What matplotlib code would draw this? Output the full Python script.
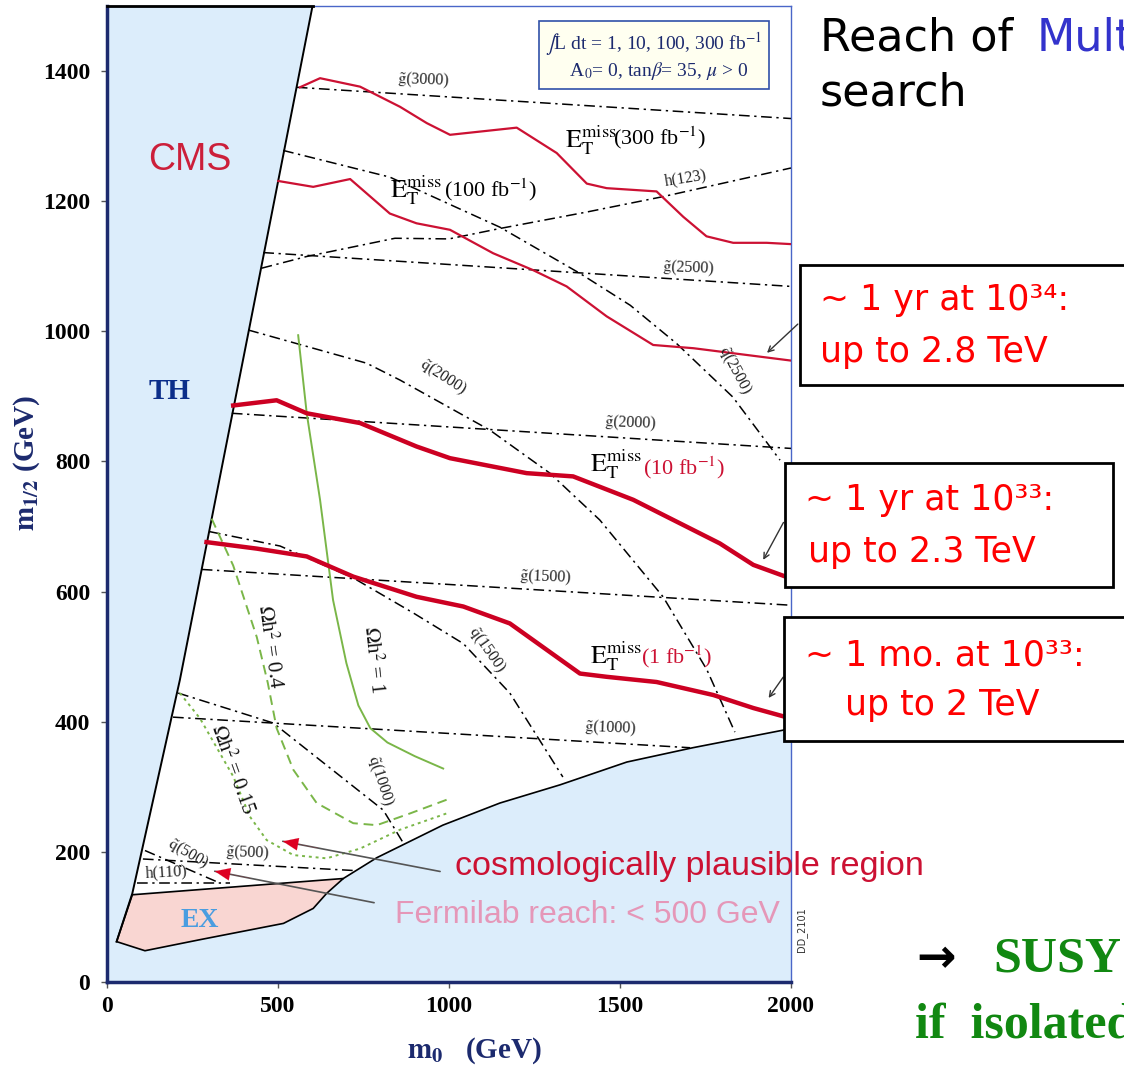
import matplotlib.pyplot as plt
from matplotlib.patches import Rectangle

plt.rcParams['mathtext.fontset'] = 'stix'
SERIF = 'Liberation Serif'
SANS = 'DejaVu Sans'

# ---- region boundaries (m0, m1/2 in GeV) ----
th_m0 = [601, 415, 213, 74, 28]
th_m12 = [1500, 1002, 464, 136, 62]
ewsb_m0 = [691, 789, 982, 1149, 1325, 1520, 1713, 1977, 2000]
ewsb_m12 = [159, 191, 241, 275, 303, 338, 360, 387, 392]
ex_m0 = [74, 691, 642, 603, 516, 272, 111, 28]
ex_m12 = [134, 159, 136, 113, 90, 65, 48, 62]

# ---- E_T^miss reach curves ----
r300_m0 = [564, 623, 740, 857, 935, 1003, 1198, 1315, 1403, 1461, 1607, 1685, 1753, 1831, 1929, 2000]
r300_m12 = [1375, 1389, 1376, 1345, 1320, 1302, 1313, 1274, 1227, 1220, 1215, 1176, 1146, 1136, 1136, 1134]
r100_m0 = [501, 603, 711, 827, 905, 1003, 1129, 1246, 1344, 1461, 1597, 1715, 2000]
r100_m12 = [1231, 1222, 1234, 1181, 1166, 1156, 1120, 1094, 1069, 1023, 979, 974, 955]
r10_m0 = [369, 496, 584, 740, 905, 1003, 1227, 1363, 1539, 1792, 1890, 2000]
r10_m12 = [886, 894, 874, 859, 823, 805, 782, 777, 741, 674, 641, 620]
r1_m0 = [291, 438, 584, 720, 905, 1042, 1178, 1383, 1461, 1607, 1773, 1890, 2000]
r1_m12 = [676, 666, 654, 623, 592, 577, 551, 474, 469, 461, 441, 421, 405]

# ---- iso-mass lines ----
g3000_m0, g3000_m12 = [555, 2000], [1375, 1327]
g2500_m0, g2500_m12 = [457, 2000], [1121, 1069]
g2000_m0, g2000_m12 = [365, 2000], [874, 820]
g1500_m0, g1500_m12 = [277, 2000], [634, 579]
g1000_m0, g1000_m12 = [193, 1705], [407, 360]
g500_m0, g500_m12 = [105, 731], [189, 171]
h110_m0, h110_m12 = [88, 360], [152, 152]
h123_m0 = [452, 584, 842, 1000, 1149, 1400, 1626, 2000]
h123_m12 = [1097, 1115, 1143, 1142, 1158, 1183, 1207, 1251]
q2500_m0 = [515, 827, 1149, 1383, 1530, 1666, 1830, 1968]
q2500_m12 = [1278, 1237, 1160, 1089, 1040, 981, 899, 802]
q2000_m0 = [413, 759, 857, 1120, 1295, 1441, 1626, 1754, 1836]
q2000_m12 = [1002, 951, 925, 848, 782, 710, 592, 480, 384]
q1500_m0 = [301, 506, 720, 896, 1042, 1178, 1333]
q1500_m12 = [692, 670, 621, 567, 520, 444, 315]
q1000_m0 = [208, 486, 808, 867]
q1000_m12 = [444, 398, 264, 213]
q500_m0, q500_m12 = [111, 330], [202, 152]

# ---- relic density contours ----
om1_m0 = [559, 584, 623, 661, 700, 735, 770, 820, 900, 983]
om1_m12 = [994, 874, 741, 587, 490, 425, 390, 368, 347, 328]
om04_m0 = [306, 369, 438, 470, 496, 545, 613, 720, 789, 886, 998]
om04_m12 = [712, 640, 530, 460, 390, 326, 275, 244, 241, 259, 281]
om015_m0 = [213, 272, 369, 418, 467, 545, 642, 740, 857, 993]
om015_m12 = [444, 405, 316, 254, 218, 195, 190, 205, 234, 259]

xticks = [0, 500, 1000, 1500, 2000]
yticks = [0, 200, 400, 600, 800, 1000, 1200, 1400]

BLUE_BG = '#dcedfb'
RED = '#cc1133'
GREEN = '#7ab648'
DASHDOT = (0, (7, 3, 1.5, 3))

fig = plt.figure(figsize=(11.24, 10.67), dpi=100)
ax = fig.add_axes([0.0952, 0.0797, 0.6085, 0.9147])
ax.set_facecolor(BLUE_BG)
ax.set_xlim(0, 2000)
ax.set_ylim(0, 1500)

# allowed (white) region
allowed_x = th_m0[:4] + ewsb_m0 + [2000]
allowed_y = th_m12[:4] + ewsb_m12 + [1500]
ax.fill(allowed_x, allowed_y, color='white', zorder=1, lw=0)
ax.fill(ex_m0, ex_m12, facecolor='#f9d6d2', edgecolor='black', lw=1.2, zorder=2)
ax.plot(th_m0, th_m12, color='black', lw=1.4, zorder=3)
ax.plot([ex_m0[1]] + ewsb_m0, [ex_m12[1]] + ewsb_m12, color='black', lw=1.2, zorder=3)
ax.plot([0, th_m0[0]], [1500, 1500], color='black', lw=2, zorder=5, clip_on=False)

# iso-mass lines
for xs, ys in [(g3000_m0, g3000_m12), (g2500_m0, g2500_m12), (g2000_m0, g2000_m12),
               (g1500_m0, g1500_m12), (g1000_m0, g1000_m12), (g500_m0, g500_m12),
               (h110_m0, h110_m12), (h123_m0, h123_m12), (q2500_m0, q2500_m12),
               (q2000_m0, q2000_m12), (q1500_m0, q1500_m12), (q1000_m0, q1000_m12),
               (q500_m0, q500_m12)]:
    ax.plot(xs, ys, color='black', lw=1.1, linestyle=DASHDOT, zorder=3)

# relic density
ax.plot(om1_m0, om1_m12, color=GREEN, lw=1.4, zorder=3)
ax.plot(om04_m0, om04_m12, color=GREEN, lw=1.4, linestyle=(0, (5, 3)), zorder=3)
ax.plot(om015_m0, om015_m12, color=GREEN, lw=1.4, linestyle=(0, (1.5, 2)), zorder=3)

# reach curves
ax.plot(r300_m0, r300_m12, color=RED, lw=1.6, zorder=4)
ax.plot(r100_m0, r100_m12, color=RED, lw=1.6, zorder=4)
ax.plot(r10_m0, r10_m12, color='#cc0022', lw=3.2, zorder=4)
ax.plot(r1_m0, r1_m12, color='#cc0022', lw=3.2, zorder=4)

# line labels
lab = dict(family=SERIF, fontsize=11.5, color='#222222', ha='center', va='center', zorder=6)
ax.text(924, 1385, r'$\tilde{\rm g}$(3000)', rotation=-2, **lab)
ax.text(1699, 1097, r'$\tilde{\rm g}$(2500)', rotation=-2, **lab)
ax.text(1693, 1236, 'h(123)', rotation=9, **lab)
ax.text(1529, 858, r'$\tilde{\rm g}$(2000)', rotation=-2, **lab)
ax.text(982, 930, r'$\tilde{\rm q}$(2000)', rotation=-33, **lab)
ax.text(1836, 940, r'$\tilde{\rm q}$(2500)', rotation=-62, **lab)
ax.text(1281, 622, r'$\tilde{\rm g}$(1500)', rotation=-2, **lab)
ax.text(1111, 510, r'$\tilde{\rm q}$(1500)', rotation=-55, **lab)
ax.text(1471, 390, r'$\tilde{\rm g}$(1000)', rotation=-2, **lab)
ax.text(798, 310, r'$\tilde{\rm q}$(1000)', rotation=-72, **lab)
ax.text(237, 197, r'$\tilde{\rm q}$(500)', rotation=-30, **lab)
ax.text(409, 198, r'$\tilde{\rm g}$(500)', rotation=-2, **lab)
ax.text(175, 168, 'h(110)', rotation=3, **lab)

om = dict(family=SERIF, fontsize=15, color='#111111', ha='center', va='center', zorder=6)
ax.text(778, 495, r'$\Omega$h$^2$ = 1', rotation=-84, **om)
ax.text(477, 515, r'$\Omega$h$^2$ = 0.4', rotation=-82, **om)
ax.text(368, 326, r'$\Omega$h$^2$ = 0.15', rotation=-70, **om)

# E_T^miss labels
et = r'$\mathrm{E}_\mathrm{T}^\mathrm{miss}$'
for (ex, ey, px, py, txt, col) in [(1339, 1294, 1480, 1297, r'(300 fb$^{-1}$)', 'black'),
                                   (827, 1217, 985, 1217, r'(100 fb$^{-1}$)', 'black'),
                                   (1412, 795, 1568, 791, r'(10 fb$^{-1}$)', RED),
                                   (1412, 500, 1562, 500, r'(1 fb$^{-1}$)', RED)]:
    ax.text(ex, ey, et, family=SERIF, fontsize=19, ha='left', va='center', zorder=6)
    ax.text(px, py, txt, family=SERIF, fontsize=16, color=col, ha='left', va='center', zorder=6)

ax.text(243, 1263, 'CMS', family='Liberation Sans', fontsize=27, color='#cc1f3a', ha='center', va='center', zorder=6)
ax.text(184, 907, 'TH', family=SERIF, fontsize=21, fontweight='bold', color='#0b2e8a', ha='center', va='center', zorder=6)
ax.text(272, 95, 'EX', family=SERIF, fontsize=20, fontweight='bold', color='#4a9de0', ha='center', va='center', zorder=6)

ax.text(1599, 1423, '$\\int$L dt = 1, 10, 100, 300 fb$^{-1}$\n  A$_0$= 0, tan$\\beta$= 35, $\\mu$ > 0',
        family=SERIF, fontsize=14, color='#1c2a6e', ha='center', va='center', linespacing=1.1, zorder=7,
        bbox=dict(boxstyle='square,pad=0.35', facecolor='#fffff0', edgecolor='#3050a8', lw=1.2))

# annotations inside the plot
ax.text(1017, 177, 'cosmologically plausible region', family='Liberation Sans', fontsize=24.5,
        color=RED, ha='left', va='center', zorder=6, clip_on=False)
ax.text(842, 103, 'Fermilab reach: < 500 GeV', family='Liberation Sans', fontsize=23,
        color='#e597b8', ha='left', va='center', zorder=6)
for tail, tip in [((982, 169), (506, 217)), ((789, 121), (307, 171))]:
    ax.annotate('', xy=tip, xytext=tail, zorder=6,
                arrowprops=dict(arrowstyle='-', color='#555555', lw=1.2))
    mid = (tip[0] + 0.25 * (tail[0] - tip[0]), tip[1] + 0.25 * (tail[1] - tip[1]))
    ax.annotate('', xy=tip, xytext=mid, zorder=7,
                arrowprops=dict(arrowstyle='-|>,head_length=1.1,head_width=0.45', color='#dd0022', lw=0.1))

ax.text(2030, 80, 'DD_2101', family=SANS, fontsize=7, rotation=90, color='#333333',
        ha='center', va='center', clip_on=False)

# axes styling
for s in ['left', 'bottom']:
    ax.spines[s].set_color('#1c2a6e')
    ax.spines[s].set_linewidth(2.5)
for s in ['top', 'right']:
    ax.spines[s].set_color('#4a66c8')
    ax.spines[s].set_linewidth(1.0)
ax.set_xticks(xticks)
ax.set_yticks(yticks)
ax.tick_params(direction='out', length=4, width=1, color='#555555', labelsize=17)
ax.tick_params(axis='y', pad=8)
ax.tick_params(axis='x', pad=6)
for t in ax.get_xticklabels() + ax.get_yticklabels():
    t.set_family(SERIF)
    t.set_fontweight('bold')
ax.set_xlabel(r'$\mathbf{m_0}$   (GeV)', family=SERIF, fontsize=21, fontweight='bold', color='#1c2a6e', va='center')
ax.set_ylabel(r'$\mathbf{m_{1/2}}$ (GeV)', family=SERIF, fontsize=21, fontweight='bold', color='#1c2a6e')
ax.xaxis.set_label_coords(0.538, -0.07)
ax.yaxis.set_label_coords(-0.095, 0.532)

# slide text on the right
W, H = 1124, 1067
def fx(px):
    return px / W
def fy(py):
    return 1 - py / H

t1 = fig.text(fx(820), fy(38), 'Reach of ', family=SANS, fontsize=32, ha='left', va='center')
fig.canvas.draw()
x_end = t1.get_window_extent(fig.canvas.get_renderer()).x1
fig.text(x_end / W + 0.008, fy(38), 'Mult', family=SANS, fontsize=32, color='#3333cc', ha='left', va='center')
fig.text(fx(820), fy(93), 'search', family=SANS, fontsize=32, ha='left', va='center')

boxes = [((800, 265, 340, 120), [(820, 300, '~ 1 yr at 10³⁴:'), (820, 352, 'up to 2.8 TeV')]),
         ((785, 463, 328, 124), [(805, 500, '~ 1 yr at 10³³:'), (808, 552, 'up to 2.3 TeV')]),
         ((784, 617, 356, 124), [(805, 655, '~ 1 mo. at 10³³:'), (845, 705, 'up to 2 TeV')])]
for (bx, by, bw, bh), lines in boxes:
    fig.patches.append(Rectangle((fx(bx), fy(by + bh)), bw / W, bh / H, transform=fig.transFigure,
                                 facecolor='white', edgecolor='black', lw=2, zorder=8))
    for lx, ly, s in lines:
        fig.text(fx(lx), fy(ly), s, family=SANS, fontsize=25, color='#ff0000', ha='left', va='center', zorder=9)

for tail, tip in [((2026, 1014), (1924, 964)), ((1982, 710), (1915, 645)), ((1982, 472), (1930, 433))]:
    ax.annotate('', xy=tip, xytext=tail, zorder=7, annotation_clip=False,
                arrowprops=dict(arrowstyle='->', color='#333333', lw=1.0))

fig.text(fx(916), fy(960), '→', family=SANS, fontsize=34, fontweight='bold', ha='left', va='center')
fig.text(fx(993), fy(960), 'SUSY', family=SERIF, fontsize=36, fontweight='bold', color='#118811', ha='left', va='center')
fig.text(fx(915), fy(1025), 'if  isolated', family=SERIF, fontsize=36, fontweight='bold', color='#118811', ha='left', va='center')

fig.savefig('out.png', dpi=100)
